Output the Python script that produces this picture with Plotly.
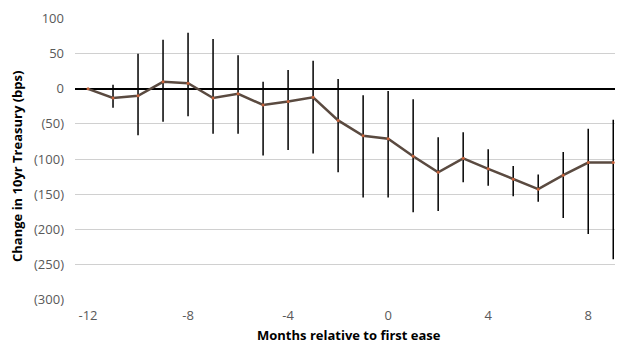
import plotly.graph_objects as go

months = [-12, -11, -10, -9, -8, -7, -6, -5, -4, -3, -2, -1, 0, 1, 2, 3, 4, 5, 6, 7, 8, 9]
change = [0, -13, -10, 10, 8, -13, -7, -23, -18, -12, -45, -67, -71, -96, -119, -99, -114, -129, -143, -123, -105, -105]
upper = [0, 6, 50, 70, 80, 71, 48, 10, 27, 40, 14, -9, -3, -15, -69, -62, -86, -110, -122, -90, -57, -44]
lower = [0, -27, -66, -47, -39, -64, -64, -95, -87, -92, -119, -155, -155, -176, -174, -133, -138, -153, -161, -184, -207, -243]

err_plus = [u - c for u, c in zip(upper, change)]
err_minus = [c - l for c, l in zip(change, lower)]

y_ticks = [100, 50, 0, -50, -100, -150, -200, -250, -300]
y_text = [str(v) if v >= 0 else "(" + str(-v) + ")" for v in y_ticks]
x_ticks = [-12, -8, -4, 0, 4, 8]
x_text = [str(v) for v in x_ticks]

fig = go.Figure()
fig.add_trace(go.Scatter(
    x=months, y=change, mode="lines+markers",
    line=dict(color="#5a4a40", width=2.5),
    marker=dict(color="#c8643c", size=3),
    error_y=dict(type="data", symmetric=False, array=err_plus, arrayminus=err_minus,
                 color="black", thickness=1.5, width=0),
    showlegend=False,
    cliponaxis=False,
))

# page body has an 8px margin, so the figure is sized/offset to compensate
fig.update_layout(
    width=615, height=336,
    margin=dict(l=67, r=0, t=10, b=44, autoexpand=False),
    paper_bgcolor="white", plot_bgcolor="white",
    font=dict(family="Open Sans", size=13, color="#595959"),
    annotations=[
        dict(text="<b>Months relative to first ease</b>", xref="paper", yref="paper",
             x=(349 - 75) / 548, y=-(335 - 300) / 282, xanchor="center", yanchor="middle",
             showarrow=False, font=dict(size=13, color="black")),
        dict(text="<b>Change in 10yr Treasury (bps)</b>", xref="paper", yref="paper",
             x=-(75 - 17) / 548, y=(300 - 167) / 282, xanchor="center", yanchor="middle",
             textangle=-90, showarrow=False, font=dict(size=13, color="black")),
    ],
)
fig.update_xaxes(
    range=[-12.52, 9.39], tickvals=x_ticks, ticktext=x_text, showgrid=False, zeroline=False,
    showline=False, ticks="", ticklabelstandoff=6, automargin=False,
)
fig.update_yaxes(
    range=[-301, 101], tickvals=y_ticks, ticktext=y_text, showgrid=True,
    gridcolor="#d0d0d0", gridwidth=1, zeroline=True, zerolinecolor="black", zerolinewidth=1.5,
    showline=False, ticks="", ticklabelstandoff=10, automargin=False,
)

fig.write_html("out.html")
